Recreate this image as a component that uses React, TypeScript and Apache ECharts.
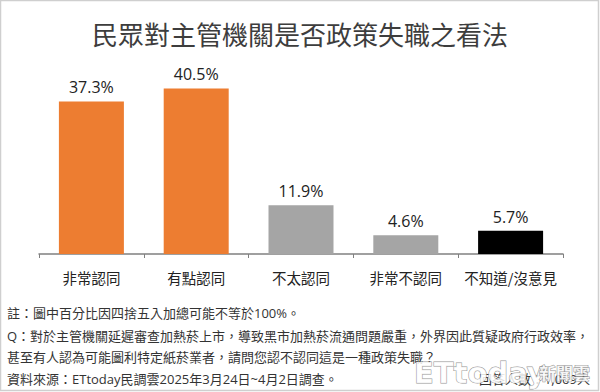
import React, { useEffect, useRef } from "react";
import * as echarts from "echarts";

const categories = ["非常認同", "有點認同", "不太認同", "非常不認同", "不知道/沒意見"];
const values = [37.3, 40.5, 11.9, 4.6, 5.7];
const barColors = ["#ED7D31", "#ED7D31", "#A5A5A5", "#A5A5A5", "#000000"];
const titleText = "民眾對主管機關是否政策失職之看法";
const noteLines = [
  "註：圖中百分比因四捨五入加總可能不等於100%。",
  "Q：對於主管機關延遲審查加熱菸上市，導致黑市加熱菸流通問題嚴重，外界因此質疑政府行政效率，",
  "甚至有人認為可能圖利特定紙菸業者，請問您認不認同這是一種政策失職？",
  "資料來源：ETtoday民調雲2025年3月24日~4月2日調查。",
];
const sampleText = "回答人數：1,069人";

const FONT = "'Open Sans', 'Noto Sans CJK TC', sans-serif";
const CJK = "'Noto Sans CJK TC', sans-serif";

export default function App() {
  const ref = useRef<HTMLDivElement>(null);
  useEffect(() => {
    if (!ref.current) return;
    const chart = echarts.init(ref.current, null, { renderer: "svg" });
    const noteY = [313, 336, 357, 379];
    chart.setOption({
      animation: false,
      backgroundColor: "#ffffff",
      grid: { left: 39, right: 37, top: 70, bottom: 138 },
      xAxis: {
        type: "category",
        data: categories,
        axisLine: { lineStyle: { color: "#808080", width: 1.5 } },
        axisTick: { show: true, length: 4, interval: 0, lineStyle: { color: "#808080" } },
        axisLabel: { color: "#222", fontSize: 14.5, margin: 16, interval: 0, fontFamily: CJK },
      },
      yAxis: { type: "value", min: 0, max: 45, show: false, splitLine: { show: false } },
      series: [
        {
          type: "bar",
          barWidth: 65,
          data: values.map((v, i) => ({ value: v, itemStyle: { color: barColors[i] } })),
          label: {
            show: true,
            position: "top",
            distance: 6,
            formatter: (p: any) => p.value + "%",
            color: "#222",
            fontSize: 16,
            fontFamily: FONT,
          },
        },
      ],
      graphic: [
        {
          type: "rect",
          shape: { x: 0.5, y: 0.5, width: 598, height: 390 },
          style: { fill: "none", stroke: "#cfcfcf", lineWidth: 1.5 },
          silent: true,
        },
        {
          type: "text",
          x: 300,
          y: 33,
          style: {
            text: titleText,
            fill: "#3d3d3d",
            font: `400 26px ${CJK}`,
            textAlign: "center",
            textVerticalAlign: "middle",
          },
        },
        ...noteLines.map((t, i) => ({
          type: "text",
          x: 7,
          y: noteY[i],
          style: {
            text: t,
            fill: "#333",
            font: `13px ${FONT}`,
            textAlign: "left",
            textVerticalAlign: "middle",
          },
        })),
        {
          type: "text",
          x: 590,
          y: 379,
          style: {
            text: sampleText,
            fill: "#333",
            font: `13px ${FONT}`,
            textAlign: "right",
            textVerticalAlign: "middle",
          },
        },
        {
          type: "text",
          x: 414,
          y: 373,
          style: {
            text: "ETtoday",
            fill: "rgba(255,255,255,0.85)",
            stroke: "rgba(120,120,120,0.8)",
            lineWidth: 1,
            font: `bold 29px 'DejaVu Sans', sans-serif`,
            textAlign: "left",
            textVerticalAlign: "middle",
          },
        },
        {
          type: "text",
          x: 539,
          y: 372,
          style: {
            text: "新聞雲",
            fill: "rgba(255,255,255,0.85)",
            stroke: "rgba(120,120,120,0.8)",
            lineWidth: 1,
            font: `bold 17px ${CJK}`,
            textAlign: "left",
            textVerticalAlign: "middle",
          },
        },
      ],
    });
    return () => chart.dispose();
  }, []);
  return (
    <div
      ref={ref}
      style={{ position: "fixed", left: 0, top: 0, width: 600, height: 392 }}
    />
  );
}
